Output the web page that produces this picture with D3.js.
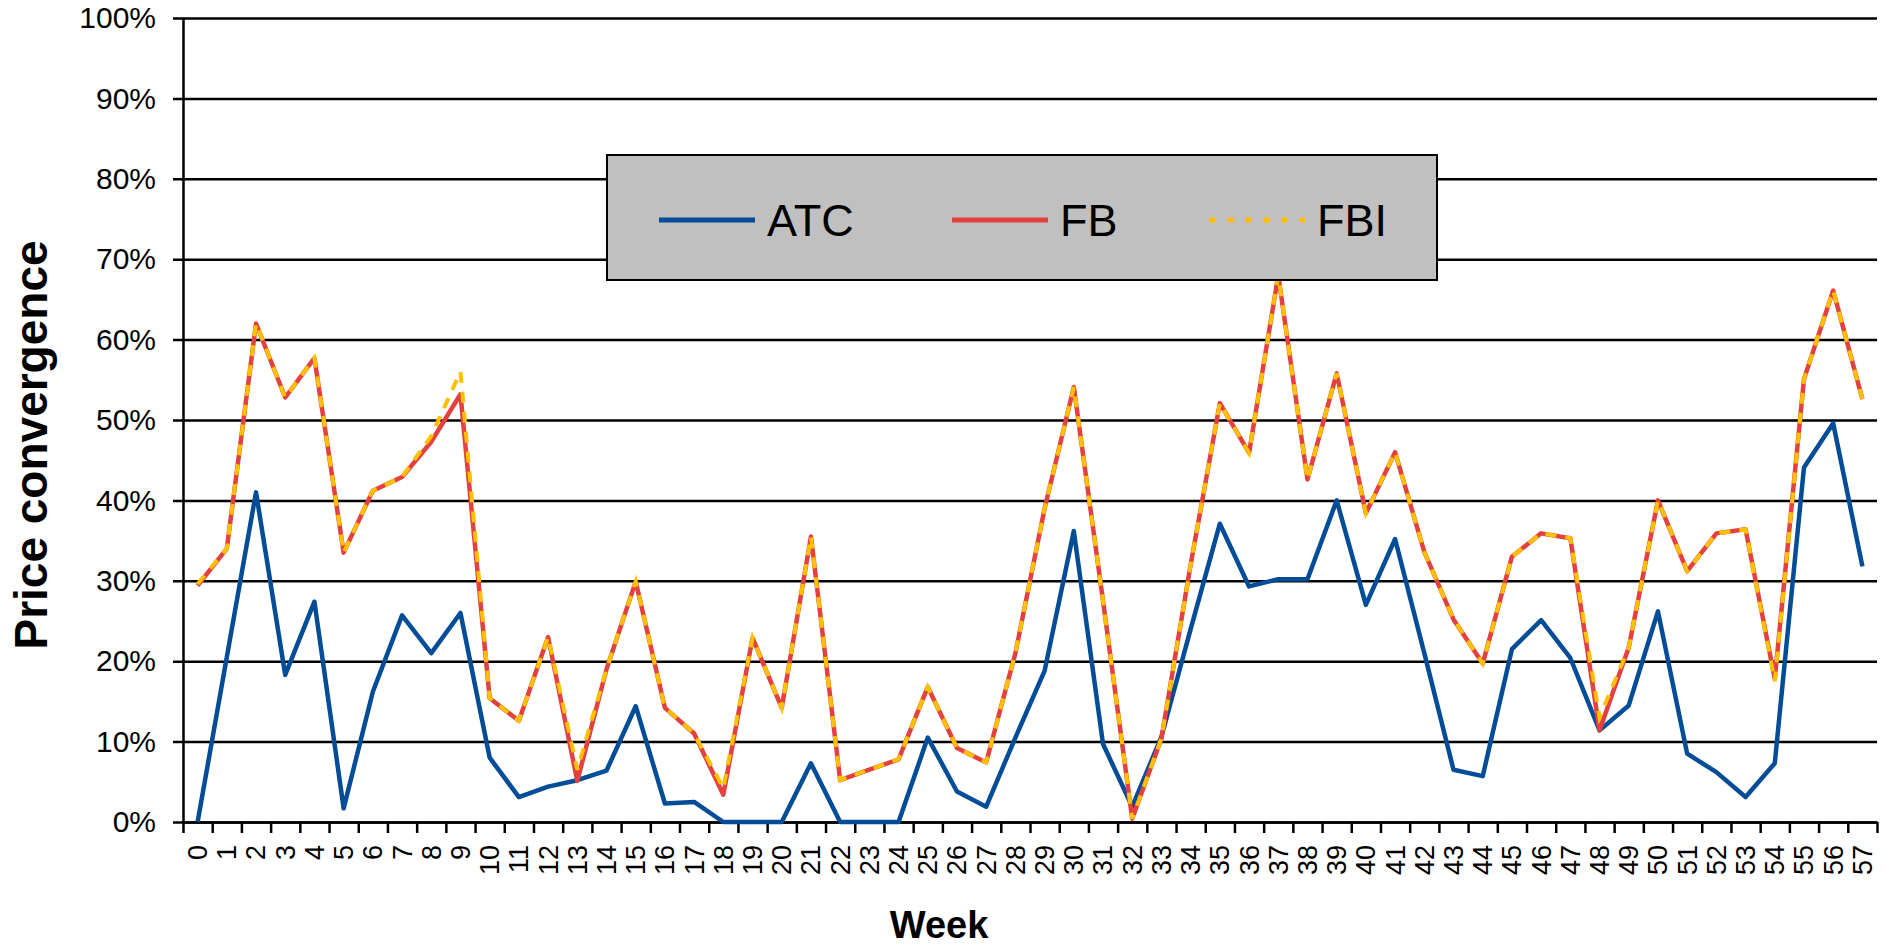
<!DOCTYPE html>
<html>
<head>
<meta charset="utf-8">
<script src="https://cdn.jsdelivr.net/npm/d3@7"></script>
<style>
  body { margin: 0; background: #fff; }
  svg { display: block; font-family: "Liberation Sans", Arial, sans-serif; }
</style>
</head>
<body>
<div id="chart"></div>
<script>
// weeks on the x axis
var weeks = d3.range(0, 58);

// price convergence, in percent
var atc = [0, 20.5, 41.0, 18.3, 27.4, 1.7, 16.2, 25.7, 21.0, 26.0,
  8.0, 3.1, 4.4, 5.2, 6.4, 14.4, 2.3, 2.5, 0, 0,
  0, 7.3, 0, 0, 0, 10.5, 3.8, 1.9, 10.5, 18.8,
  36.2, 9.7, 1.9, 10.6, 24.0, 37.1, 29.3, 30.2, 30.2, 40.0,
  27.0, 35.2, 21.0, 6.5, 5.7, 21.5, 25.1, 20.4, 11.4, 14.5,
  26.2, 8.5, 6.2, 3.1, 7.3, 44.1, 49.6, 31.8];

var fb = [29.4, 34.0, 62.0, 52.8, 57.7, 33.5, 41.2, 42.9, 47.3, 53.2,
  15.4, 12.6, 23.0, 5.1, 19.0, 29.9, 14.2, 11.0, 3.4, 22.9,
  14.2, 35.5, 5.2, 6.5, 7.8, 16.8, 9.2, 7.4, 21.0, 39.0,
  54.1, 27.5, 0.4, 10.4, 32.0, 52.1, 45.9, 68.0, 42.6, 55.8,
  38.4, 46.0, 33.6, 25.2, 19.7, 33.0, 35.9, 35.3, 11.4, 21.7,
  40.0, 31.2, 35.9, 36.4, 17.8, 55.1, 66.1, 52.6];

var fbi = [29.6, 34.0, 62.0, 52.8, 57.7, 33.5, 41.2, 42.9, 48.0, 56.0,
  15.4, 12.6, 23.0, 6.5, 19.0, 29.9, 14.2, 11.0, 4.2, 22.9,
  14.2, 35.5, 5.2, 6.5, 7.8, 16.8, 9.2, 7.4, 21.0, 39.0,
  54.1, 27.5, 0.4, 10.4, 32.0, 52.1, 45.9, 68.0, 42.6, 55.8,
  38.4, 46.0, 33.6, 25.2, 19.7, 33.0, 35.9, 35.3, 13.0, 21.7,
  40.0, 31.2, 35.9, 36.4, 17.5, 55.1, 66.1, 52.6];

var yTicks = [0, 10, 20, 30, 40, 50, 60, 70, 80, 90, 100];

var seriesNames = ["ATC", "FB", "FBI"];
var seriesColors = ["#024C98", "#E4403F", "#FFC000"];

(function () {
  var width = 1890, height = 946;
  var left = 183, right = 1877, top = 18, bottom = 822;

  var svg = d3.select("#chart")
    .append("svg")
    .attr("width", width)
    .attr("height", height);

  var x = d3.scaleBand().domain(weeks).range([left, right]).padding(0);
  var xEdge = d3.scaleLinear().domain([0, weeks.length]).range([left, right]);
  var y = d3.scaleLinear().domain([0, 100]).range([bottom, top]);

  // gridlines + y labels
  var yAxis = svg.append("g")
    .attr("transform", "translate(" + left + ",0)")
    .call(d3.axisLeft(y)
      .tickValues(yTicks)
      .tickSizeInner(-(right - left))
      .tickSizeOuter(0)
      .tickPadding(27)
      .tickFormat(function (d) { return d + "%"; }));
  yAxis.selectAll(".tick line")
    .attr("x1", -10)
    .attr("stroke", "#000")
    .attr("stroke-width", 2.5);
  yAxis.select(".domain").attr("stroke", "#000").attr("stroke-width", 2.5);
  yAxis.selectAll(".tick text")
    .attr("fill", "#000")
    .style("font-size", "30px");

  // x axis: ticks sit between the weeks
  var xTicks = svg.append("g")
    .attr("transform", "translate(0," + bottom + ")")
    .call(d3.axisBottom(xEdge)
      .tickValues(d3.range(0, weeks.length + 1))
      .tickSizeInner(11)
      .tickSizeOuter(0)
      .tickFormat(""));
  xTicks.selectAll("line").attr("stroke", "#000").attr("stroke-width", 2.5);
  xTicks.select(".domain").attr("stroke", "#000").attr("stroke-width", 2.5);

  var xLabels = svg.append("g")
    .attr("transform", "translate(0," + bottom + ")")
    .call(d3.axisBottom(x).tickSize(0).tickPadding(0));
  xLabels.select(".domain").remove();
  xLabels.selectAll("text")
    .attr("transform", "rotate(-90)")
    .attr("x", -23)
    .attr("y", 0)
    .attr("dy", "0.35em")
    .attr("fill", "#000")
    .style("font-size", "27px")
    .style("text-anchor", "end");

  // lines
  var line = d3.line()
    .x(function (d, i) { return x(weeks[i]) + x.bandwidth() / 2; })
    .y(function (d) { return y(d); });

  svg.append("path")
    .datum(atc)
    .attr("fill", "none")
    .attr("stroke", seriesColors[0])
    .attr("stroke-width", 4.5)
    .attr("stroke-linejoin", "round")
    .attr("d", line);

  svg.append("path")
    .datum(fb)
    .attr("fill", "none")
    .attr("stroke", seriesColors[1])
    .attr("stroke-width", 4.5)
    .attr("stroke-linejoin", "round")
    .attr("d", line);

  svg.append("path")
    .datum(fbi)
    .attr("fill", "none")
    .attr("stroke", seriesColors[2])
    .attr("stroke-width", 4)
    .attr("stroke-dasharray", "11,9")
    .attr("d", line);

  // axis titles
  svg.append("text")
    .attr("transform", "translate(47,445) rotate(-90)")
    .attr("text-anchor", "middle")
    .style("font-size", "46px")
    .style("font-weight", "bold")
    .text("Price convergence");

  svg.append("text")
    .attr("x", 939)
    .attr("y", 938)
    .attr("text-anchor", "middle")
    .style("font-size", "38px")
    .style("font-weight", "bold")
    .text("Week");

  // legend box
  var legend = svg.append("g");
  legend.append("rect")
    .attr("x", 607)
    .attr("y", 155)
    .attr("width", 830)
    .attr("height", 125)
    .attr("fill", "#C0C0C0")
    .attr("stroke", "#000")
    .attr("stroke-width", 2);

  var legendX = [659, 952, 1209];
  seriesNames.forEach(function (name, i) {
    var ln = legend.append("line")
      .attr("x1", legendX[i])
      .attr("x2", legendX[i] + 96)
      .attr("y1", 220)
      .attr("y2", 220)
      .attr("stroke", seriesColors[i])
      .attr("stroke-width", 5);
    if (name === "FBI") ln.attr("stroke-dasharray", "7,11");
    legend.append("text")
      .attr("x", legendX[i] + 108)
      .attr("y", 236)
      .style("font-size", "45px")
      .text(name);
  });
})();
</script>
</body>
</html>
